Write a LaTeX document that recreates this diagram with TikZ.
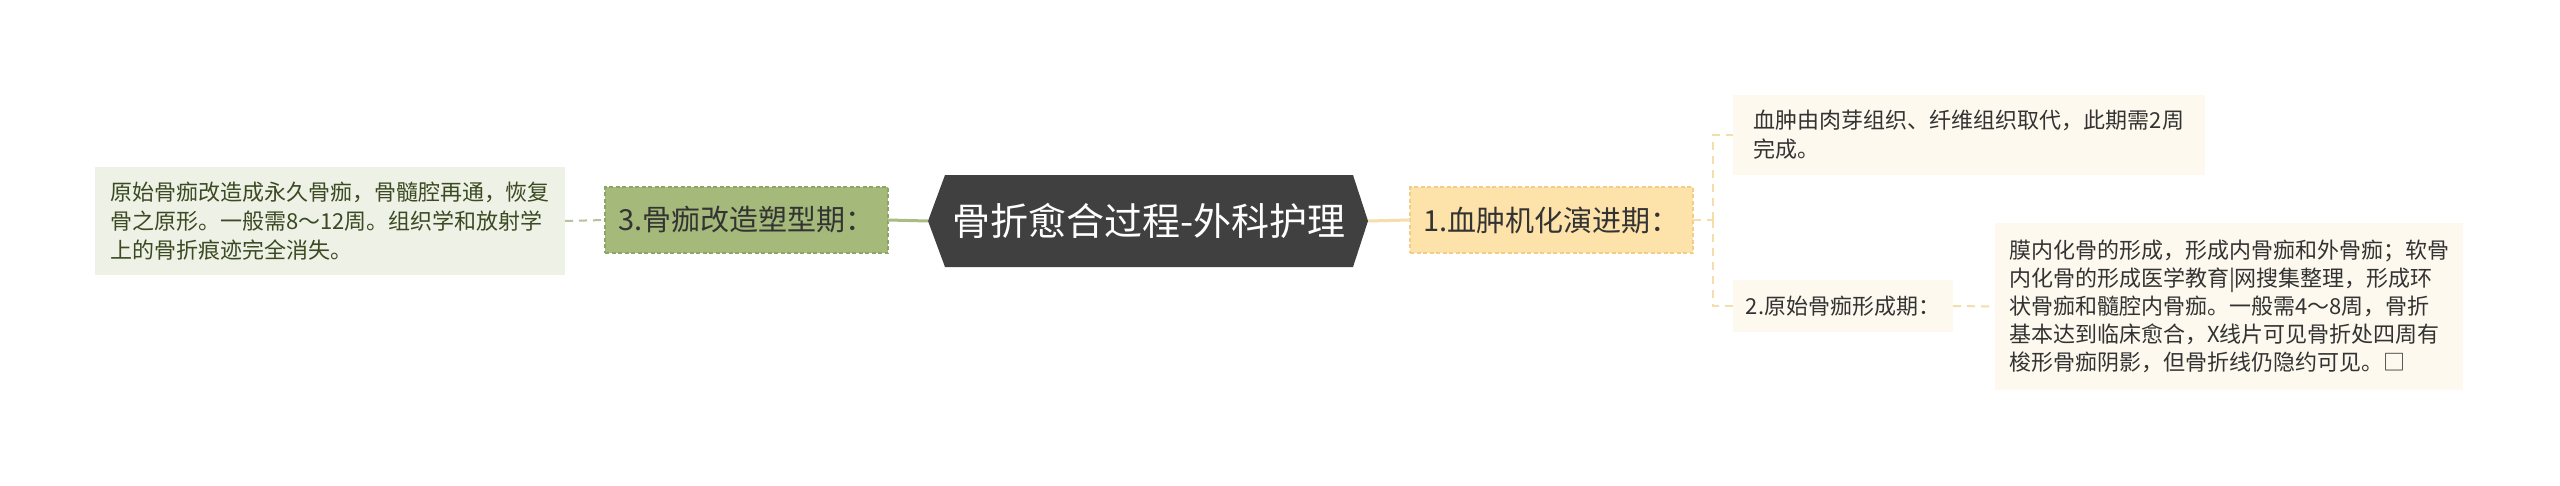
\documentclass[tikz,border=0pt]{standalone}
\usepackage{fontspec}
\newfontfamily\cjk{Noto Sans CJK SC}
\usetikzlibrary{backgrounds}
\definecolor{centerfill}{HTML}{404040}
\definecolor{greenfill}{HTML}{A4B97A}
\definecolor{greenborder}{HTML}{8FA565}
\definecolor{greenline}{HTML}{A9BC82}
\definecolor{greendash}{HTML}{B5C29C}
\definecolor{leftfill}{HTML}{EEF1E6}
\definecolor{lefttext}{HTML}{3B4A22}
\definecolor{orangefill}{HTML}{FDE2A9}
\definecolor{orangeborder}{HTML}{F1CD86}
\definecolor{yellowline}{HTML}{F4DFAA}
\definecolor{creamfill}{HTML}{FDF9EE}
\definecolor{darktext}{HTML}{333333}
\begin{document}
\begin{tikzpicture}[x=1pt,y=-1pt,
  every node/.style={inner sep=0pt,outer sep=0pt},
  leafbox/.style={fill=creamfill,text=darktext,align=left,font=\cjk\fontsize{22}{29}\selectfont},
  leftbox/.style={fill=leftfill,text=lefttext,align=left,font=\cjk\fontsize{22}{29}\selectfont},
  branchbox/.style={line width=1.5pt,dash pattern=on 4pt off 2.5pt,text=darktext,font=\cjk\fontsize{29}{34}\selectfont,minimum width=283pt,minimum height=66pt},
  rootbox/.style={text=white,font=\cjk\fontsize{38}{44}\selectfont,minimum width=408pt,minimum height=92pt},
  gdash/.style={draw=greendash,line width=2pt,dash pattern=on 8pt off 6pt},
  gsolid/.style={draw=greenline,line width=3pt},
  ysolid/.style={draw=yellowline,line width=3pt},
  ydash/.style={draw=yellowline,line width=2pt,dash pattern=on 8pt off 6pt}
]
\useasboundingbox (0,0) rectangle (2560,485);

% root
\node[rootbox] (c) at (1149,221) {骨折愈合过程-外科护理};
\coordinate (cw) at ([xshift=-17pt]c.west);
\coordinate (ce) at ([xshift=15pt]c.east);
\begin{scope}[on background layer]
\fill[white] (0,0) rectangle (2560,485);
\fill[centerfill] (cw) -- (c.north west) -- (c.north east) -- (ce) -- (c.south east) -- (c.south west) -- cycle;
\end{scope}

% left branch
\node[branchbox,fill=greenfill,draw=greenborder] (g) at (746.5,220) {3.骨痂改造塑型期：};
\node[leftbox,minimum width=470pt,minimum height=108pt] (l) at (330,221)
  {原始骨痂改造成永久骨痂，骨髓腔再通，恢复\\骨之原形。一般需8～12周。组织学和放射学\\上的骨折痕迹完全消失。};

% right branch
\node[branchbox,fill=orangefill,draw=orangeborder] (n1) at (1551.5,220) {1.血肿机化演进期：};
\node[leafbox,minimum width=472pt,minimum height=80pt] (ch1) at (1969,135)
  {血肿由肉芽组织、纤维组织取代，此期需2周\\完成。};
\node[leafbox,minimum width=220pt,minimum height=52pt] (ch2) at (1843,306) {2.原始骨痂形成期：};
\node[leafbox,font=\cjk\fontsize{22}{28}\selectfont,minimum width=468pt,minimum height=167pt] (big) at (2229,306.5)
  {膜内化骨的形成，形成内骨痂和外骨痂；软骨\\内化骨的形成医学教育|网搜集整理，形成环\\状骨痂和髓腔内骨痂。一般需4～8周，骨折\\基本达到临床愈合，X线片可见骨折处四周有\\梭形骨痂阴影，但骨折线仍隐约可见。□};

% connectors
\draw[gdash] (l.east) -- (g.west);
\draw[gsolid] (g.east) -- (cw);
\draw[ysolid] (ce) -- (n1.west);
\coordinate (j) at (1713,220);
\draw[ydash] (n1.east) -- (j);
\draw[ydash] (j) |- (ch1.west);
\draw[ydash] (j) |- (ch2.west);
\draw[ydash] (ch2.east) -- (big.west);
\end{tikzpicture}
\end{document}
